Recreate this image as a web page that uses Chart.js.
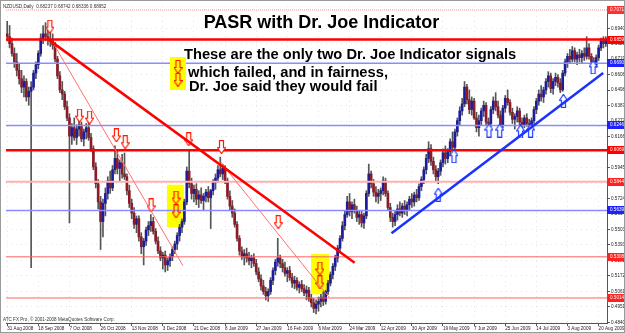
<!DOCTYPE html>
<html>
<head>
<meta charset="utf-8">
<script src="https://cdn.jsdelivr.net/npm/chart.js@4.4.0/dist/chart.umd.min.js"></script>
<style>
  body { margin: 0; background: #fff; }
  canvas { display: block; }
</style>
</head>
<body>
<canvas id="pasrChart" width="625" height="333"></canvas>
<script>
// all prices below are in pips (price x 10000)
const dateLabels = ['31 Aug 2008', '18 Sep 2008', '7 Oct 2008', '26 Oct 2008', '13 Nov 2008', '3 Dec 2008', '21 Dec 2008',
    '8 Jan 2009', '27 Jan 2009', '16 Feb 2009', '6 Mar 2009', '24 Mar 2009', '12 Apr 2009', '30 Apr 2009', '19 May 2009',
    '7 Jun 2009', '25 Jun 2009', '14 Jul 2009', '3 Aug 2009', '20 Aug 2009'];
const dateBars = [0, 13, 26, 39, 52, 65, 78, 91, 104, 117, 130, 143, 156, 169, 182, 195, 208, 221, 234, 247];
const priceTicks = [0.48400, 0.49510, 0.50610, 0.51720, 0.52820, 0.53930, 0.55030, 0.56140, 0.57240, 0.58350,
    0.59450, 0.60560, 0.61660, 0.62770, 0.63870, 0.64980, 0.66080, 0.67190, 0.68290, 0.69400];

const opens = [
    6900, 6880, 6830, 6760, 6700, 6640, 6580, 6520, 6560, 6450, 6490, 6520, 6620, 6680, 6760, 6870, 6900, 6880, 6860, 6850,
    6820, 6720, 6600, 6500, 6470, 6380, 6300, 6170, 6230, 6160, 6220, 6250, 6150, 6200, 6230, 6160, 6080, 5950, 5830, 5700, 5560,
    5690, 5760, 5850, 5800, 5930, 6010, 5940, 5980, 5900, 5880, 5780, 5690, 5620, 5540, 5580, 5450, 5380, 5420, 5500, 5530,
    5560, 5490, 5420, 5350, 5300, 5320, 5250, 5280, 5310, 5360, 5400, 5460, 5520, 5560, 5700,
    5920, 5830, 5760, 5790, 5720, 5750, 5710, 5740, 5770, 5730, 5780, 5840, 5870, 5930, 5900, 5940, 5850, 5740, 5670, 5620,
    5540, 5440, 5350, 5310, 5330,
    5300, 5280, 5300, 5260, 5200, 5150, 5100, 5060, 5030, 5060, 5140, 5210, 5270, 5300, 5260, 5230, 5190, 5210, 5160, 5120,
    5140, 5090, 5110, 5080, 5050, 5070, 5010,
    4980, 4940, 4970, 4990, 5020, 4990, 5060, 5120,
    5180, 5240, 5300, 5370, 5440, 5530, 5610, 5700, 5630, 5680, 5640, 5590, 5610, 5550, 5600, 5760, 5900, 5830, 5770, 5740,
    5760, 5780, 5850, 5760, 5660,
    5590, 5560, 5610, 5650, 5620, 5670, 5640, 5680, 5720, 5700, 5750, 5730, 5810, 5860, 5930, 6010, 6080, 5990, 5930, 5880,
    5920, 5980, 6050, 6010, 6060, 6130, 6090, 6200, 6280, 6350,
    6400, 6520, 6430, 6360, 6420, 6300, 6230, 6280, 6350, 6390, 6270, 6260, 6360, 6420, 6380, 6320, 6250, 6370, 6440, 6410,
    6340, 6290, 6310, 6350, 6270, 6250, 6300, 6260, 6240, 6280,
    6360, 6420, 6470, 6450, 6500, 6560, 6600, 6510, 6560, 6590, 6550, 6500, 6620, 6700, 6740, 6720, 6780, 6720, 6750, 6730,
    6760, 6740, 6800, 6740, 6700, 6680, 6730, 6800, 6850, 6830];
const highs = [
    6990, 6960, 6870, 6800, 6760, 6690, 6640, 6600, 6580, 6520, 6560, 6640, 6700, 6780, 6900, 6960, 6980, 6950, 6920, 6900,
    6840, 6740, 6630, 6560, 6490, 6420, 6330, 6260, 6300, 6250, 6285, 6270, 6220, 6260, 6275, 6190, 6100, 5980, 5860, 5740, 5720,
    5800, 5880, 5920, 5960, 6100, 6060, 6000, 6040, 6050, 5900, 5820, 5720, 5660, 5600, 5600, 5480, 5440, 5520, 5560, 5610,
    5590, 5510, 5450, 5380, 5340, 5350, 5300, 5330, 5380, 5420, 5480, 5540, 5580, 5720, 5950,
    6070, 5870, 5820, 5830, 5780, 5800, 5760, 5790, 5810, 5790, 5860, 5900, 5960, 6020, 5970, 5960, 5870, 5780, 5710, 5650,
    5560, 5460, 5380, 5360, 5370,
    5340, 5320, 5330, 5290, 5230, 5180, 5140, 5090, 5080, 5160, 5230, 5290, 5440, 5320, 5290, 5270, 5230, 5240, 5190, 5170,
    5160, 5130, 5140, 5110, 5100, 5090, 5040,
    5010, 5000, 5020, 5040, 5060, 5070, 5140, 5200,
    5260, 5320, 5390, 5460, 5560, 5640, 5740, 5760, 5700, 5720, 5670, 5640, 5640, 5620, 5780, 5970, 5920, 5860, 5810, 5790,
    5800, 5880, 5870, 5780, 5690,
    5620, 5640, 5680, 5700, 5690, 5710, 5700, 5740, 5760, 5770, 5790, 5830, 5880, 5950, 6040, 6130, 6110, 6020, 5960, 5940,
    6000, 6080, 6100, 6080, 6150, 6200, 6220, 6300, 6380, 6440,
    6560, 6540, 6500, 6450, 6440, 6340, 6320, 6370, 6420, 6410, 6300, 6380, 6450, 6480, 6420, 6350, 6390, 6460, 6500, 6430,
    6370, 6330, 6380, 6370, 6300, 6320, 6330, 6290, 6300, 6380,
    6440, 6500, 6530, 6520, 6580, 6630, 6620, 6580, 6620, 6610, 6580, 6640, 6720, 6760, 6790, 6810, 6800, 6770, 6790, 6780,
    6800, 6880, 6830, 6760, 6730, 6750, 6820, 6870, 6880, 6880];
const lows = [
    6850, 6800, 6740, 6660, 6600, 6540, 6480, 6450, 6420, 6390, 5230, 6500, 6580, 6650, 6740, 6830, 6850, 6820, 6810, 6790,
    6700, 6580, 6480, 6430, 6360, 6280, 5550, 6110, 6140, 6110, 6170, 6130, 6100, 6150, 6140, 6060, 5930, 5800, 5650, 5360, 5450,
    5600, 5720, 5760, 5780, 5900, 5900, 5850, 5870, 5860, 5750, 5660, 5580, 5510, 5480, 5420, 5330, 5250, 5390, 5460, 5490,
    5470, 5400, 5330, 5280, 5220, 5200, 5210, 5240, 5280, 5330, 5360, 5420, 5480, 5540, 5680,
    5800, 5720, 5700, 5680, 5660, 5690, 5640, 5700, 5700, 5510, 5750, 5790, 5840, 5880, 5860, 5830, 5720, 5640, 5590, 5520,
    5420, 5320, 5290, 5250, 5270,
    5250, 5230, 5240, 5180, 5130, 5070, 5040, 5000, 4990, 5040, 5110, 5180, 5240, 5230, 5200, 5170, 5130, 5140, 5090, 5080,
    5070, 5050, 5060, 5030, 5000, 4990, 4950,
    4910, 4900, 4920, 4950, 4960, 4970, 5040, 5100,
    5150, 5210, 5270, 5340, 5420, 5500, 5590, 5600, 5580, 5620, 5560, 5540, 5520, 5510, 5580, 5740, 5800, 5740, 5700, 5690,
    5710, 5750, 5740, 5640, 5560,
    5520, 5530, 5570, 5600, 5590, 5610, 5600, 5640, 5660, 5670, 5700, 5710, 5780, 5830, 5900, 5980, 5960, 5900, 5850, 5830,
    5890, 5950, 5970, 5980, 6030, 6070, 6080, 6170, 6250, 6320,
    6380, 6400, 6330, 6320, 6290, 6200, 6170, 6250, 6310, 6250, 6220, 6240, 6330, 6350, 6300, 6220, 6230, 6340, 6390, 6320,
    6260, 6220, 6270, 6250, 6220, 6230, 6240, 6220, 6225, 6260,
    6330, 6390, 6420, 6410, 6470, 6520, 6480, 6470, 6530, 6520, 6480, 6490, 6600, 6660, 6690, 6700, 6700, 6680, 6700, 6690,
    6710, 6720, 6720, 6660, 6650, 6660, 6710, 6780, 6800, 6810];
const closes = [
    6880, 6830, 6760, 6700, 6640, 6580, 6520, 6560, 6450, 6490, 6520, 6620, 6680, 6760, 6870, 6900, 6880, 6860, 6850, 6820,
    6720, 6600, 6500, 6470, 6380, 6300, 6170, 6230, 6160, 6220, 6250, 6150, 6200, 6230, 6160, 6080, 5950, 5830, 5700, 5560, 5690,
    5760, 5850, 5800, 5930, 6010, 5940, 5980, 5900, 5880, 5780, 5690, 5620, 5540, 5580, 5450, 5380, 5420, 5500, 5530, 5560,
    5490, 5420, 5350, 5300, 5320, 5250, 5280, 5310, 5360, 5400, 5460, 5520, 5560, 5700, 5920,
    5830, 5760, 5790, 5720, 5750, 5710, 5740, 5770, 5730, 5780, 5840, 5870, 5930, 5900, 5940, 5850, 5740, 5670, 5620, 5540,
    5440, 5350, 5310, 5330, 5300,
    5280, 5300, 5260, 5200, 5150, 5100, 5060, 5030, 5060, 5140, 5210, 5270, 5300, 5260, 5230, 5190, 5210, 5160, 5120, 5140,
    5090, 5110, 5080, 5050, 5070, 5010, 4980,
    4940, 4970, 4990, 5020, 4990, 5060, 5120, 5180,
    5240, 5300, 5370, 5440, 5530, 5610, 5700, 5630, 5680, 5640, 5590, 5610, 5550, 5600, 5760, 5900, 5830, 5770, 5740, 5760,
    5780, 5850, 5760, 5660, 5590,
    5560, 5610, 5650, 5620, 5670, 5640, 5680, 5720, 5700, 5750, 5730, 5810, 5860, 5930, 6010, 6080, 5990, 5930, 5880, 5920,
    5980, 6050, 6010, 6060, 6130, 6090, 6200, 6280, 6350, 6400,
    6520, 6430, 6360, 6420, 6300, 6230, 6280, 6350, 6390, 6270, 6260, 6360, 6420, 6380, 6320, 6250, 6370, 6440, 6410, 6340,
    6290, 6310, 6350, 6270, 6250, 6300, 6260, 6240, 6280, 6360,
    6420, 6470, 6450, 6500, 6560, 6600, 6510, 6560, 6590, 6550, 6500, 6620, 6700, 6740, 6720, 6780, 6720, 6750, 6730, 6760,
    6740, 6800, 6740, 6700, 6680, 6730, 6800, 6850, 6830, 6860];

// horizontal support / resistance levels
const dottedLevels = [7071];
const thickRedLevels = [6859, 6069];
const pinkLevels = [5844];
const thinRedLevels = [5308, 5014];
const blueLevels = [6690, 6246, 5639];

// trend lines as [bar, price] end points
const mainDownTrend = [[17.3, 6859], [145.1, 5266]];
const steepDownTrends = [[[18.6, 6852], [73.4, 5245]], [[89.1, 5985], [134.4, 5019]]];
const upTrend = [[160.5, 5477], [248.9, 6620]];

// Dr. Joe signals as [bar, price]
const downSignals = [[17.8, 6951], [30.2, 6316], [34.4, 6302], [45.6, 6175], [49.3, 6126], [60.1, 5675],
    [75.8, 6147], [89.5, 6091], [113.2, 5555]];
const failedSignals = [[70.5, 5731], [70.5, 5632], [130.6, 5224], [130.6, 5125]];
const failedBoxes = [[66.7, 73.8, 5823, 5520], [126.9, 134.4, 5329, 5040]];
const upSignals = [[180, 5752], [186.6, 6027], [201.2, 6210], [205.7, 6210], [214.4, 6203], [218.6, 6210],
    [232.3, 6422], [244.7, 6662]];

const pip = v => v / 10000;
const tinyFont = '"Liberation Sans", Arial, sans-serif';

function makeArrow(color, fill, up) {
    const c = document.createElement('canvas');
    c.width = 9;
    c.height = 14;
    const g = c.getContext('2d');
    if (up) {
        g.translate(0, 14);
        g.scale(1, -1);
    }
    g.beginPath();
    g.moveTo(2.5, 0.5);
    g.lineTo(6.5, 0.5);
    g.lineTo(6.5, 7.5);
    g.lineTo(8.5, 7.5);
    g.lineTo(4.5, 13.5);
    g.lineTo(0.5, 7.5);
    g.lineTo(2.5, 7.5);
    g.closePath();
    if (fill) {
        g.fillStyle = fill;
        g.fill();
    }
    g.strokeStyle = color;
    g.lineWidth = 1.2;
    g.stroke();
    return c;
}

const downArrow = makeArrow('#ff1a00', '#ffffff', false);
const failedArrow = makeArrow('#ff1a00', null, false);
const upArrow = makeArrow('#1e3cff', '#ffffff', true);

function levelDataset(levels, color, width, dash) {
    return levels.map(p => ({
        type: 'line',
        data: [{ x: -0.5, y: pip(p) }, { x: 250.5, y: pip(p) }],
        borderColor: color,
        borderWidth: width,
        borderDash: dash || [],
        pointRadius: 0,
        order: 1
    }));
}

function trendDataset(points, color, width) {
    return {
        type: 'line',
        data: points.map(([b, p]) => ({ x: b, y: pip(p) })),
        borderColor: color,
        borderWidth: width,
        pointRadius: 0,
        order: 0
    };
}

function signalDataset(points, img) {
    return {
        type: 'scatter',
        data: points.map(([b, p]) => ({ x: b, y: pip(p) })),
        pointStyle: img,
        pointRadius: 5,
        order: 0
    };
}

const wickData = highs.map((h, i) => ({ x: i, y: [pip(lows[i]), pip(h)] }));
const bodyData = opens.map((o, i) => ({ x: i, y: [pip(Math.min(o, closes[i])), pip(Math.max(o, closes[i]))] }));

const notesPlugin = {
    id: 'pasrNotes',
    beforeDatasetsDraw(chart) {
        const { ctx, scales: { x, y } } = chart;
        ctx.save();
        ctx.fillStyle = '#ffff00';
        failedBoxes.forEach(([b0, b1, p0, p1]) => {
            const x0 = x.getPixelForValue(b0), x1 = x.getPixelForValue(b1);
            const y0 = y.getPixelForValue(pip(p0)), y1 = y.getPixelForValue(pip(p1));
            ctx.fillRect(x0, y0, x1 - x0, y1 - y0);
        });
        ctx.restore();
    },
    afterDraw(chart) {
        const { ctx, chartArea, scales: { y } } = chart;
        ctx.save();

        // price tags on the axis
        const tags = [
            ...dottedLevels.map(p => [p, '#ff3030']),
            ...thickRedLevels.map(p => [p, '#ff0000']),
            ...pinkLevels.map(p => [p, '#ff2020']),
            ...thinRedLevels.map(p => [p, '#ff2020']),
            ...blueLevels.map(p => [p, '#2020ff'])
        ];
        ctx.font = '4.6px ' + tinyFont;
        ctx.textBaseline = 'middle';
        ctx.textAlign = 'left';
        tags.forEach(([p, color]) => {
            const py = Math.round(y.getPixelForValue(pip(p)));
            ctx.fillStyle = color;
            ctx.fillRect(chartArea.right, py - 4, 20, 8);
            ctx.fillStyle = '#ffffff';
            ctx.fillText(pip(p).toFixed(5), chartArea.right + 3, py);
        });

        // title and comment
        ctx.fillStyle = '#000000';
        ctx.textBaseline = 'alphabetic';
        ctx.font = 'bold 18px "Liberation Sans", Arial, sans-serif';
        ctx.textAlign = 'center';
        ctx.fillText('PASR with Dr. Joe Indicator', 321.5, 28);
        ctx.font = 'bold 14.7px "Liberation Sans", Arial, sans-serif';
        ctx.textAlign = 'left';
        ctx.fillText('These are the only two Dr. Joe Indicator signals', 184, 58.5);
        ctx.fillText('which failed, and in fairness,', 188, 76.5);
        ctx.fillText('Dr. Joe said they would fail', 189, 90.5);

        // yellow legend box
        ctx.fillStyle = '#ffff00';
        ctx.fillRect(170, 57, 16, 33);
        ctx.drawImage(failedArrow, 173.5, 60);
        ctx.drawImage(failedArrow, 173.5, 73);

        // terminal captions
        ctx.fillStyle = '#333333';
        ctx.font = '4.6px ' + tinyFont;
        ctx.fillText('NZDUSD,Daily  0.68237 0.68742 0.68336 0.68952', 3, 8);
        ctx.fillText('ATC FX Pro, \u00a9 2001-2008 MetaQuotes Software Corp.', 3, 321);

        ctx.strokeStyle = '#9a9a9a';
        ctx.lineWidth = 1;
        ctx.strokeRect(0.5, 0.5, 624, 332);
        ctx.restore();
    }
};

new Chart(document.getElementById('pasrChart'), {
    type: 'bar',
    data: {
        datasets: [
            ...levelDataset(dottedLevels, '#ff8c8c', 1, [1, 1]),
            ...levelDataset(thickRedLevels, '#ff0000', 2.5),
            ...levelDataset(pinkLevels, '#ffb0b0', 2),
            ...levelDataset(thinRedLevels, '#ff6060', 1),
            ...levelDataset(blueLevels, '#8c8cff', 1.5),
            trendDataset(mainDownTrend, '#ff0000', 2.5),
            ...steepDownTrends.map(t => trendDataset(t, '#ff7070', 1)),
            trendDataset(upTrend, '#1a32ff', 2.5),
            signalDataset(downSignals, downArrow),
            signalDataset(failedSignals, failedArrow),
            signalDataset(upSignals, upArrow),
            {
                type: 'bar',
                data: bodyData,
                backgroundColor: ctx => closes[ctx.dataIndex] >= opens[ctx.dataIndex] ? '#1c1c9c' : '#8a1c28',
                barThickness: 2,
                minBarLength: 1,
                grouped: false,
                order: 2
            },
            {
                type: 'bar',
                data: wickData,
                backgroundColor: '#555555',
                barThickness: 1,
                grouped: false,
                order: 3
            }
        ]
    },
    options: {
        responsive: false,
        devicePixelRatio: 1,
        animation: false,
        layout: { padding: { left: 2, top: 2, right: 0, bottom: 0 } },
        plugins: {
            legend: { display: false },
            tooltip: { enabled: false }
        },
        scales: {
            x: {
                type: 'linear',
                min: -0.5,
                max: 250.5,
                offset: false,
                grid: { offset: false, color: 'rgba(170,170,185,0.3)', tickLength: 3, tickColor: '#555' },
                border: { display: true, color: '#555', dash: [1, 4] },
                ticks: {
                    autoSkip: false,
                    maxRotation: 0,
                    align: 'start',
                    padding: 0,
                    color: '#222',
                    font: { size: 4.6, family: tinyFont },
                    callback: v => dateLabels[dateBars.indexOf(v)]
                },
                afterBuildTicks: scale => { scale.ticks = dateBars.map(v => ({ value: v })); },
                afterFit: scale => {
                    scale.height = 10;
                    scale.paddingLeft = 0;
                    scale.paddingRight = 0;
                }
            },
            y: {
                position: 'right',
                min: 0.48354,
                max: 0.70991,
                grid: { color: 'rgba(170,170,185,0.3)', tickLength: 3, tickColor: '#555' },
                border: { display: true, color: '#555', dash: [1, 4] },
                ticks: {
                    autoSkip: false,
                    padding: 1,
                    color: '#222',
                    font: { size: 4.6, family: tinyFont },
                    callback: v => v.toFixed(5)
                },
                afterBuildTicks: scale => { scale.ticks = priceTicks.map(v => ({ value: v })); },
                afterFit: scale => {
                    scale.width = 18;
                    scale.paddingTop = 0;
                    scale.paddingBottom = 0;
                }
            }
        }
    },
    plugins: [notesPlugin]
});
</script>
</body>
</html>
